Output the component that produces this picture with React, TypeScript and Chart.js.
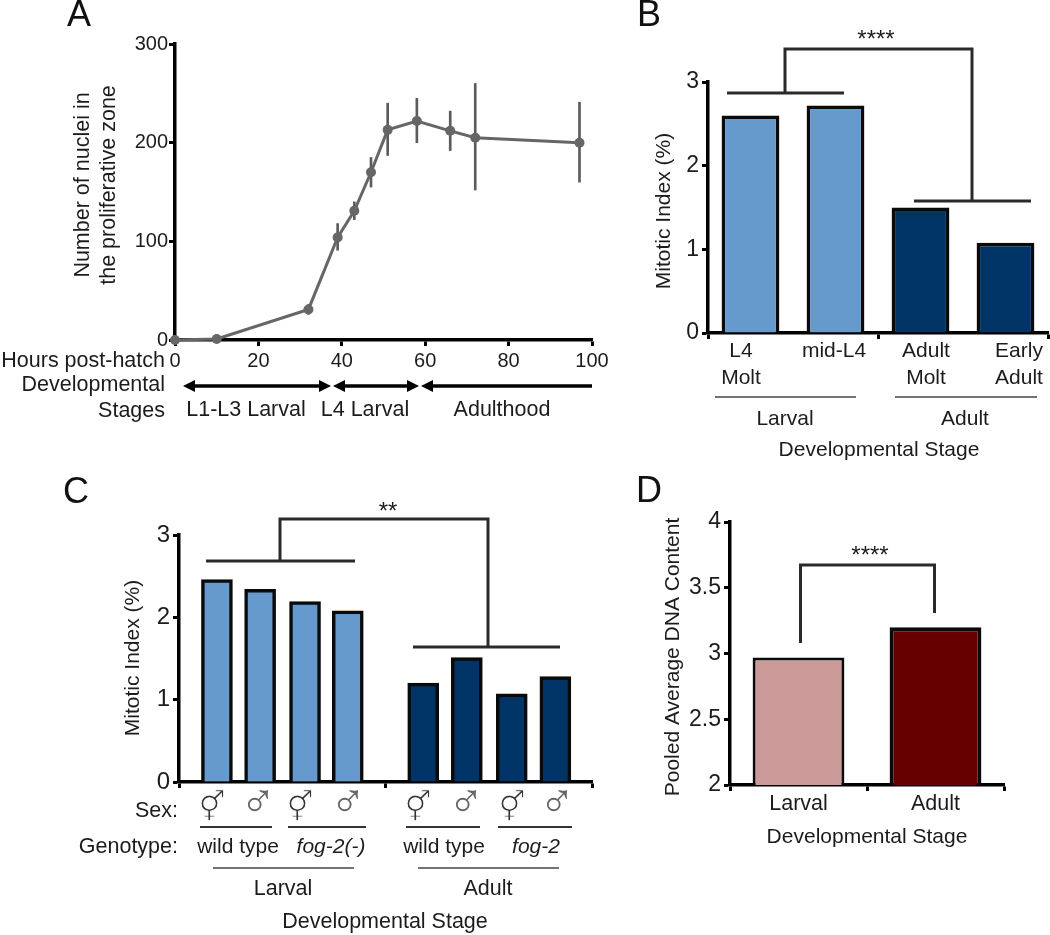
import React, { useEffect, useRef } from "react";
import { Chart, registerables } from "chart.js";

Chart.register(...registerables);

const FONT = '"Liberation Sans", Arial, sans-serif';
const INK = "#1c1c1c";

// ---------- data ----------
const hours = [0, 10, 32, 39, 43, 47, 51, 58, 66, 72, 97];
const nuclei = [0, 1, 31, 104, 131, 170, 213, 222, 212, 205, 200];
const nucleiLow = [0, 0, 26, 91, 122, 155, 187, 200, 192, 152, 160];
const nucleiHigh = [0, 2, 36, 118, 140, 185, 240, 245, 232, 260, 241];

const stageCategoriesB = ["L4 Molt", "mid-L4", "Adult Molt", "Early Adult"];
const mitoticB = [2.6, 2.72, 1.5, 1.08];

const slotsLarvalC = [0.87, 1.86, 2.89, 3.87];
const slotsAdultC = [5.6, 6.6, 7.63, 8.63];
const mitoticLarvalC = [2.46, 2.34, 2.19, 2.08];
const mitoticAdultC = [1.2, 1.51, 1.07, 1.28];
const sexSymbols = ["⚥", "♂", "⚥", "♂", "⚥", "♂", "⚥", "♂"];

const stageCategoriesD = ["Larval", "Adult"];
const dnaContent = [2.97, 3.2];

// ---------- annotation helpers ----------
type Txt = { t: string; x: number; y: number; s?: number; a?: CanvasTextAlign; it?: boolean; rot?: boolean; c?: string; f?: string; thin?: number };
type Path = { p: number[]; w?: number; c?: string };
type Arrow = { x1: number; x2: number; y: number; left: boolean; right: boolean };
type Notes = { texts: Txt[]; paths?: Path[]; arrows?: Arrow[] };

const notesPlugin = (box: { left: number; top: number }, notes: Notes) => ({
  id: "notes",
  afterDraw(chart: any) {
    const ctx: CanvasRenderingContext2D = chart.ctx;
    ctx.save();
    ctx.translate(-box.left, -box.top);
    for (const l of notes.paths || []) {
      ctx.beginPath();
      ctx.strokeStyle = l.c || "#2a2a2a";
      ctx.lineWidth = l.w || 3;
      ctx.lineJoin = "miter";
      ctx.moveTo(l.p[0], l.p[1]);
      for (let i = 2; i < l.p.length; i += 2) ctx.lineTo(l.p[i], l.p[i + 1]);
      ctx.stroke();
    }
    for (const r of notes.arrows || []) {
      ctx.beginPath();
      ctx.strokeStyle = "#000";
      ctx.lineWidth = 3.5;
      ctx.moveTo(r.x1 + (r.left ? 8 : 0), r.y);
      ctx.lineTo(r.x2 - (r.right ? 8 : 0), r.y);
      ctx.stroke();
      ctx.fillStyle = "#000";
      if (r.left) {
        ctx.beginPath();
        ctx.moveTo(r.x1, r.y);
        ctx.lineTo(r.x1 + 12, r.y - 6);
        ctx.lineTo(r.x1 + 12, r.y + 6);
        ctx.fill();
      }
      if (r.right) {
        ctx.beginPath();
        ctx.moveTo(r.x2, r.y);
        ctx.lineTo(r.x2 - 12, r.y - 6);
        ctx.lineTo(r.x2 - 12, r.y + 6);
        ctx.fill();
      }
    }
    for (const t of notes.texts) {
      ctx.save();
      ctx.translate(t.x, t.y);
      if (t.rot) ctx.rotate(-Math.PI / 2);
      ctx.font = `${t.it ? "italic " : ""}${t.s || 20}px ${t.f || FONT}`;
      ctx.fillStyle = t.c || INK;
      ctx.textAlign = t.a || "center";
      ctx.textBaseline = "middle";
      ctx.fillText(t.t, 0, 0);
      if (t.thin) {
        // erode the heavy glyph so that its strokes look as thin as in the figure
        ctx.strokeStyle = "#fff";
        ctx.lineWidth = t.thin;
        ctx.strokeText(t.t, 0, 0);
      }
      ctx.restore();
    }
    ctx.restore();
  },
});

// ---------- layout ----------
type Box = { left: number; top: number; w: number; h: number };
type Plot = { x0: number; x1: number; yT: number; yB: number; yw: number; xh: number };

const layoutFor = (b: Box, p: Plot) => ({
  padding: {
    left: p.x0 - b.left - p.yw,
    right: b.left + b.w - p.x1,
    top: p.yT - b.top,
    bottom: b.top + b.h - p.yB - p.xh,
  },
});

const axisBase = (size: number, fit: (s: any) => void) => ({
  border: { color: "#000", width: 3.5 },
  grid: { display: true, drawOnChartArea: false, drawTicks: true, tickLength: 6, tickWidth: 3, tickColor: "#000", offset: false },
  afterFit: fit,
  offset: false,
  ticks: { color: INK, font: { family: FONT, size }, padding: 1, maxRotation: 0, autoSkip: false },
});

const yAxis = (p: Plot, min: number, max: number, step: number, size: number, pad = 1) => {
  const base: any = axisBase(size, (s: any) => { s.width = p.yw; });
  base.min = min;
  base.max = max;
  base.ticks.stepSize = step;
  base.ticks.padding = pad;
  base.ticks.callback = (v: number) => String(v);
  return base;
};

const commonOptions = (b: Box, p: Plot) => ({
  responsive: false,
  animation: false as const,
  layout: layoutFor(b, p),
  plugins: { legend: { display: false }, tooltip: { enabled: false }, title: { display: false } },
});

// ---------- panels ----------
const boxA: Box = { left: 0, top: 0, w: 620, h: 440 };
const boxB: Box = { left: 620, top: 0, w: 430, h: 470 };
const boxC: Box = { left: 0, top: 470, w: 620, h: 465 };
const boxD: Box = { left: 620, top: 470, w: 430, h: 465 };

const plotA: Plot = { x0: 175, x1: 592, yT: 44, yB: 340, yw: 50, xh: 40 };
const plotB: Plot = { x0: 708, x1: 1048, yT: 82, yB: 333, yw: 40, xh: 10 };
const plotC: Plot = { x0: 179, x1: 592, yT: 535, yB: 782, yw: 40, xh: 10 };
const plotD: Plot = { x0: 730, x1: 1004, yT: 522, yB: 785, yw: 50, xh: 40 };

const notesA: Notes = {
  texts: [
    { t: "A", x: 79, y: 16, s: 36, c: "#111" },
    { t: "Number of nuclei in", x: 83, y: 185, s: 21.5, rot: true },
    { t: "the proliferative zone", x: 109, y: 185, s: 21.5, rot: true },
    { t: "Hours post-hatch", x: 165, y: 361, s: 21.5, a: "right" },
    { t: "Developmental", x: 165, y: 385, s: 21.5, a: "right" },
    { t: "Stages", x: 165, y: 411, s: 21.5, a: "right" },
    { t: "L1-L3 Larval", x: 246, y: 410, s: 21.5 },
    { t: "L4 Larval", x: 365, y: 410, s: 21.5 },
    { t: "Adulthood", x: 502, y: 410, s: 21.5 },
  ],
  arrows: [
    { x1: 183, x2: 331, y: 386, left: true, right: true },
    { x1: 333, x2: 419, y: 386, left: true, right: true },
    { x1: 421, x2: 592, y: 386, left: true, right: false },
  ],
};

const notesB: Notes = {
  texts: [
    { t: "B", x: 649, y: 16, s: 36, c: "#111" },
    { t: "****", x: 876, y: 40, s: 24 },
    { t: "Mitotic Index (%)", x: 664, y: 211, s: 21, rot: true },
    { t: "L4", x: 741, y: 351, s: 21 },
    { t: "Molt", x: 741, y: 378, s: 21 },
    { t: "mid-L4", x: 834, y: 351, s: 21 },
    { t: "Adult", x: 926, y: 351, s: 21 },
    { t: "Molt", x: 926, y: 378, s: 21 },
    { t: "Early", x: 1019, y: 351, s: 21 },
    { t: "Adult", x: 1019, y: 378, s: 21 },
    { t: "Larval", x: 785, y: 419, s: 21 },
    { t: "Adult", x: 965, y: 419, s: 21 },
    { t: "Developmental Stage", x: 879, y: 450, s: 21 },
  ],
  paths: [
    { p: [785, 93, 785, 49, 972, 49, 972, 201] },
    { p: [727, 93, 844, 93] },
    { p: [914, 201, 1031, 201] },
    { p: [715, 397, 856, 397], w: 1.5, c: "#444" },
    { p: [895, 397, 1037, 397], w: 1.5, c: "#444" },
  ],
};

const symbolX = [212, 258, 300, 348, 418, 466, 512, 557];
const notesC: Notes = {
  texts: [
    { t: "C", x: 76, y: 493, s: 36, c: "#111" },
    { t: "**", x: 388, y: 512, s: 24 },
    { t: "Mitotic Index (%)", x: 133, y: 658, s: 21, rot: true },
    { t: "Sex:", x: 178, y: 811, s: 21.5, a: "right" },
    { t: "Genotype:", x: 178, y: 847, s: 21.5, a: "right" },
    { t: "wild type", x: 238, y: 847, s: 21 },
    { t: "fog-2(-)", x: 331, y: 847, s: 21, it: true },
    { t: "wild type", x: 444, y: 847, s: 21 },
    { t: "fog-2", x: 536, y: 847, s: 21, it: true },
    { t: "Larval", x: 283, y: 889, s: 21.5 },
    { t: "Adult", x: 488, y: 889, s: 21.5 },
    { t: "Developmental Stage", x: 385, y: 922, s: 21.5 },
    ...sexSymbols.map((t, i) =>
      t === "⚥"
        ? { t, x: symbolX[i], y: 809, s: 30, c: "#333", f: '"DejaVu Sans"', thin: 0.9 }
        : { t, x: symbolX[i], y: 804, s: 48, c: "#666", f: '"Liberation Sans"' }
    ),
  ],
  paths: [
    { p: [280, 561, 280, 519, 488, 519, 488, 647] },
    { p: [206, 561, 355, 561] },
    { p: [413, 647, 560, 647] },
    { p: [200, 827, 272, 827], w: 2, c: "#333" },
    { p: [288, 827, 366, 827], w: 2, c: "#333" },
    { p: [406, 827, 480, 827], w: 2, c: "#333" },
    { p: [498, 827, 572, 827], w: 2, c: "#333" },
    { p: [213, 868, 354, 868], w: 1.5, c: "#444" },
    { p: [418, 868, 559, 868], w: 1.5, c: "#444" },
  ],
};

const notesD: Notes = {
  texts: [
    { t: "D", x: 649, y: 492, s: 36, c: "#111" },
    { t: "****", x: 870, y: 556, s: 24 },
    { t: "Pooled Average DNA Content", x: 673, y: 657, s: 21, rot: true },
    { t: "Developmental Stage", x: 867, y: 837, s: 21 },
  ],
  paths: [{ p: [800.5, 643, 800.5, 565, 934.5, 565, 934.5, 613] }],
};

// ---------- chart configs ----------
const configA = () => ({
  type: "line",
  data: {
    datasets: [
      {
        type: "line",
        data: hours.map((x, i) => ({ x, y: nuclei[i] })),
        borderColor: "#666666",
        backgroundColor: "#666666",
        borderWidth: 3,
        pointRadius: 5,
        pointBackgroundColor: "#666666",
        pointBorderWidth: 0,
        tension: 0,
        clip: false,
        order: 1,
      },
      {
        type: "bar",
        data: hours.map((x, i) => ({ x, y: [nucleiLow[i], nucleiHigh[i]] })),
        backgroundColor: "#5c5c5c",
        borderWidth: 0,
        barThickness: 2,
        order: 2,
      },
    ],
  },
  options: {
    ...commonOptions(boxA, plotA),
    scales: {
      x: (() => {
        const a: any = axisBase(20, (s: any) => { s.height = plotA.xh; });
        a.type = "linear";
        a.min = 0;
        a.max = 100;
        a.ticks.stepSize = 20;
        a.ticks.padding = 3;
        return a;
      })(),
      y: yAxis(plotA, 0, 300, 100, 20),
    },
  },
  plugins: [notesPlugin(boxA, notesA)],
});

const configB = () => {
  const x: any = axisBase(20, (s: any) => { s.height = plotB.xh; });
  x.offset = true;
  x.grid.offset = true;
  x.grid.tickColor = (c: any) => (c.index === 1 || c.index === 3 ? "rgba(0,0,0,0)" : "#000");
  x.ticks.display = false;
  return {
    type: "bar",
    data: {
      labels: stageCategoriesB,
      datasets: [
        {
          data: mitoticB,
          backgroundColor: ["#6699cc", "#6699cc", "#003366", "#003366"],
          borderColor: "#0a0a0a",
          borderWidth: 3.5,
          barPercentage: 0.68,
          categoryPercentage: 1,
        },
      ],
    },
    options: { ...commonOptions(boxB, plotB), scales: { x, y: yAxis(plotB, 0, 3, 1, 23, 3) } },
    plugins: [notesPlugin(boxB, notesB)],
  };
};

const configC = () => {
  const x: any = axisBase(20, (s: any) => { s.height = plotC.xh; });
  x.type = "linear";
  x.min = 0;
  x.max = 9.47;
  x.afterBuildTicks = (s: any) => { s.ticks = [{ value: 0 }, { value: 4.735 }, { value: 9.47 }]; };
  x.ticks.display = false;
  const series = (slots: number[], vals: number[], color: string) => ({
    data: slots.map((sx, i) => ({ x: sx, y: vals[i] })),
    backgroundColor: color,
    borderColor: "#0a0a0a",
    borderWidth: 3.5,
    barThickness: 31,
    grouped: false,
  });
  return {
    type: "bar",
    data: { datasets: [series(slotsLarvalC, mitoticLarvalC, "#6699cc"), series(slotsAdultC, mitoticAdultC, "#003366")] },
    options: { ...commonOptions(boxC, plotC), scales: { x, y: yAxis(plotC, 0, 3, 1, 24, 3) } },
    plugins: [notesPlugin(boxC, notesC)],
  };
};

const configD = () => {
  const x: any = axisBase(21.5, (s: any) => { s.height = plotD.xh; });
  x.offset = true;
  x.grid.offset = true;
  x.ticks.padding = 0;
  return {
    type: "bar",
    data: {
      labels: stageCategoriesD,
      datasets: [
        {
          data: dnaContent,
          backgroundColor: ["#cc9999", "#660000"],
          borderColor: "#0a0a0a",
          borderWidth: [3, 4],
          barPercentage: 0.67,
          categoryPercentage: 1,
        },
      ],
    },
    options: { ...commonOptions(boxD, plotD), scales: { x, y: yAxis(plotD, 2, 4, 0.5, 23, 3) } },
    plugins: [notesPlugin(boxD, notesD)],
  };
};

function Panel({ box, make }: { box: Box; make: () => any }) {
  const ref = useRef<HTMLCanvasElement>(null);
  useEffect(() => {
    const chart = new Chart(ref.current as HTMLCanvasElement, make());
    return () => chart.destroy();
  }, []);
  return (
    <canvas
      ref={ref}
      width={box.w}
      height={box.h}
      style={{ position: "absolute", left: box.left, top: box.top, width: box.w, height: box.h, display: "block" }}
    />
  );
}

export default function App() {
  return (
    <div style={{ position: "absolute", left: 0, top: 0, width: 1050, height: 935, background: "#fff", overflow: "hidden" }}>
      <Panel box={boxA} make={configA} />
      <Panel box={boxB} make={configB} />
      <Panel box={boxC} make={configC} />
      <Panel box={boxD} make={configD} />
    </div>
  );
}
